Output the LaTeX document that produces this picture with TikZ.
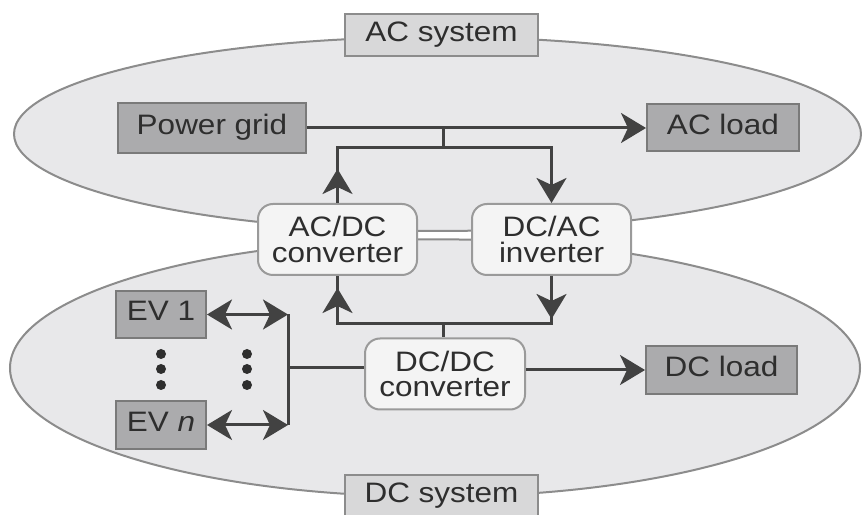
\documentclass[tikz,border=0pt]{standalone}
\usepackage{fontspec}
\setmainfont{Liberation Sans}[FakeStretch = 1.12]
\usetikzlibrary{arrows.meta, decorations.markings}
\definecolor{regionfill}{HTML}{E8E8EA}
\definecolor{regionline}{HTML}{8C8C8C}
\definecolor{labelfill}{HTML}{D8D8D9}
\definecolor{unitfill}{HTML}{ABABAD}
\definecolor{unitline}{HTML}{7A7A7A}
\definecolor{convfill}{HTML}{F4F4F4}
\definecolor{convline}{HTML}{9A9A9A}
\definecolor{linkcolor}{HTML}{424242}
\definecolor{textcolor}{HTML}{2E2E2E}
\tikzset{
	> = {Stealth[length = 0.5cm, width = 0.6cm, inset = 0.14cm]},
	power flow/.is family,
	power flow/.cd,
	region/.style = {
		draw = regionline,
		fill = regionfill,
		line width = 0.04cm,
	},
	region label/.style = {
		draw = regionline,
		fill = labelfill,
		line width = 0.04cm,
		minimum width = 3.86cm,
		minimum height = 0.84cm,
		inner sep = 0pt,
		text height = 0.92em,
		text depth = 0.2em,
		text = textcolor,
		font = \fontsize{16}{14.4}\selectfont,
	},
	unit/.style = {
		draw = unitline,
		fill = unitfill,
		line width = 0.04cm,
		minimum height = 0.96cm,
		inner sep = 0pt,
		text height = 0.92em,
		text depth = 0.2em,
		text = textcolor,
		font = \fontsize{16}{14.4}\selectfont,
	},
	converter/.style = {
		draw = convline,
		fill = convfill,
		rounded corners = 0.3cm,
		line width = 0.04cm,
		minimum width = 3.18cm,
		minimum height = 1.42cm,
		inner sep = 0pt,
		align = center,
		text = textcolor,
		font = \fontsize{16}{14.4}\selectfont,
	},
	link/.style = {
		draw = linkcolor,
		line width = 0.06cm,
	},
	tip at/.style = {
		postaction = {
			decorate,
			decoration = {
				markings,
				mark = at position #1 with {\arrow{>}},
			},
		},
	},
	dot/.style = {
		fill = textcolor,
	},
}

\begin{document}
\begin{tikzpicture}
	\useasboundingbox (0, 0) rectangle (17.24, 10.28);

	\path[power flow/region] (8.75, 7.60) ellipse [x radius = 8.47, y radius = 1.94];
	\path[power flow/region] (8.70, 2.92) ellipse [x radius = 8.50, y radius = 2.574];

	\node[power flow/region label] (acsystem) at (8.83, 9.58) {AC system};
	\node[power flow/region label] (dcsystem) at (8.83, 0.36) {DC system};

	\node[power flow/unit, minimum width = 3.76cm, minimum height = 1.0cm] (grid) at (4.24, 7.72) {Power grid};
	\node[power flow/unit, minimum width = 3.04cm, minimum height = 0.94cm] (acload) at (14.46, 7.72) {AC load};
	\node[power flow/unit, minimum width = 3.02cm] (dcload) at (14.43, 2.88) {DC load};
	\node[power flow/unit, minimum width = 1.8cm, minimum height = 0.94cm] (ev1) at (3.22, 3.99) {EV 1};
	\node[power flow/unit, minimum width = 1.8cm] (evn) at (3.22, 1.78) {EV \textit{n}};

	\node[power flow/converter] (acdc) at (6.75, 5.49) {AC/DC\\converter};
	\node[power flow/converter] (dcac) at (11.03, 5.49) {DC/AC\\inverter};
	\node[power flow/converter, minimum width = 3.2cm] (dcdc) at (8.90, 2.80) {DC/DC\\converter};

	\coordinate (acbus) at (8.86, 7.32);
	\coordinate (dcbus) at (8.86, 3.80);
	\coordinate (evbus) at (5.76, 2.92);

	\draw[power flow/link, ->] (grid.east) -- (grid.east -| acload.west);
	\draw[power flow/link] (acbus) -- (acbus |- grid.east);
	\draw[power flow/link, ->, power flow/tip at = 0.68cm] (acdc.north) |- (acbus) -| (dcac.north);

	\draw[power flow/link] (dcbus) -- (dcbus |- dcdc.north);
	\draw[power flow/link, power flow/tip at = 0.86cm, power flow/tip at = -0.24cm] (dcac.south) |- (dcbus) -| (acdc.south);

	\draw[power flow/link, <->] (ev1.east) -- (ev1.east -| evbus);
	\draw[power flow/link, <->] (evn.east) -- (evn.east -| evbus);
	\draw[power flow/link] (ev1.east -| evbus) -- (evn.east -| evbus);
	\draw[power flow/link] (evbus) -- (evbus -| dcdc.west);
	\draw[power flow/link, ->] (dcdc.east |- dcload.west) -- (dcload.west);

	\foreach \y in {3.20, 2.90, 2.58} {
		\fill[power flow/dot] (3.22, \y) circle [radius = 0.1];
		\fill[power flow/dot] (4.94, \y) circle [radius = 0.1];
	}
\end{tikzpicture}
\end{document}
